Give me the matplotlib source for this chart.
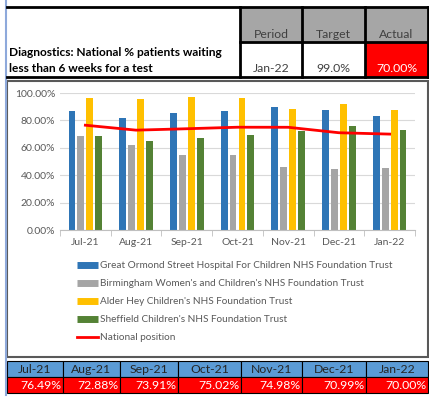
import matplotlib.pyplot as plt
from matplotlib.patches import Rectangle
from matplotlib.lines import Line2D
from matplotlib.ticker import FuncFormatter, FixedLocator

plt.rcParams['font.family'] = ['Lato', 'DejaVu Sans']

## Data
months = ['Jul-21', 'Aug-21', 'Sep-21', 'Oct-21', 'Nov-21', 'Dec-21', 'Jan-22']
trusts = ["Great Ormond Street Hospital For Children NHS Foundation Trust",
          "Birmingham Women's and Children's NHS Foundation Trust",
          "Alder Hey Children's NHS Foundation Trust",
          "Sheffield Children's NHS Foundation Trust"]
gosh = [86.8, 81.9, 85.3, 87.0, 89.7, 87.5, 82.9]
bwc = [68.6, 62.3, 54.7, 55.0, 46.2, 44.5, 45.0]
alder = [96.1, 95.3, 97.3, 96.6, 88.3, 91.9, 87.5]
sheff = [68.6, 64.7, 67.1, 69.0, 72.4, 75.6, 72.9]
national = [76.49, 72.88, 73.91, 75.02, 74.98, 70.99, 70.00]
period, target, actual = 'Jan-22', '99.0%', '70.00%'

colors = ['#2E75B6', '#A5A5A5', '#FFC000', '#548235']
W, H = 429, 408

fig = plt.figure(figsize=(W / 100, H / 100), dpi=100)

#%% background layer in pixel coords
bg = fig.add_axes([0, 0, 1, 1])
bg.set_xlim(0, W)
bg.set_ylim(H, 0)
bg.axis('off')

# left blue edge
bg.plot([6, 6], [0, 395], color='#8EA9DB', lw=1.5)

# top table
grey = '#A6A6A6'
for x0, x1 in [(240, 302), (302, 365), (365, 428)]:
    bg.add_patch(Rectangle((x0, 7), x1 - x0, 35, facecolor=grey, edgecolor='none'))
bg.add_patch(Rectangle((365, 42), 63, 35, facecolor='#FF0000', edgecolor='none'))
bg.plot([7, 428], [7, 7], color='black', lw=2)
bg.plot([7, 428], [77, 77], color='black', lw=2)
bg.plot([240, 428], [42, 42], color='black', lw=2)
for x in [240, 302, 365, 428]:
    bg.plot([x, x], [7, 77], color='black', lw=2)
bg.text(9, 52, 'Diagnostics: National % patients waiting', fontsize=8.6, fontweight='bold', va='center')
bg.text(9, 69, 'less than 6 weeks for a test', fontsize=8.6, fontweight='bold', va='center')
for xc, s in [(271, 'Period'), (333.5, 'Target'), (396.5, 'Actual')]:
    bg.text(xc, 34, s, fontsize=8.8, color='#404040', ha='center', va='center')
bg.text(271, 69, period, fontsize=8.8, color='#404040', ha='center', va='center')
bg.text(333.5, 69, target, fontsize=8.8, color='#404040', ha='center', va='center')
bg.text(396.5, 69, actual, fontsize=8.8, color='white', ha='center', va='center')

# chart box
bg.add_patch(Rectangle((7, 81), 421, 276, facecolor='none', edgecolor='#595959', lw=1.5))

# bottom table
edges = [7, 63, 120, 178, 241, 302, 366, 428]
for i, m in enumerate(months):
    x0, x1 = edges[i], edges[i + 1]
    bg.add_patch(Rectangle((x0, 361), x1 - x0, 16, facecolor='#5B9BD5', edgecolor='black', lw=0.8))
    bg.add_patch(Rectangle((x0, 377), x1 - x0, 16, facecolor='#FF0000', edgecolor='black', lw=0.8))
    bg.text((x0 + x1) / 2, 369.5, m, fontsize=8.8, color='#262626', ha='center', va='center')
    bg.text(x1 - 2, 385.5, '{:.2f}%'.format(national[i]), fontsize=8.8, color='white', ha='right', va='center')

#%% chart
ax = fig.add_axes([60 / W, 1 - 230 / H, 355 / W, 137 / H])
x = list(range(len(months)))
bw = 0.135
pitch = 0.176
for k, (vals, c) in enumerate(zip([gosh, bwc, alder, sheff], colors)):
    off = (k - 1.5) * pitch
    ax.bar([i + off for i in x], vals, width=bw, color=c, zorder=2)
ax.plot(x, national, color='#FF0000', lw=2, zorder=3)

ax.set_xlim(-0.5, 6.5)
ax.set_ylim(0, 100)
ax.yaxis.set_major_locator(FixedLocator([0, 20, 40, 60, 80, 100]))
ax.yaxis.set_major_formatter(FuncFormatter(lambda v, p: '{:.2f}%'.format(v)))
ax.grid(axis='y', color='#D9D9D9', lw=0.8, zorder=0)
ax.set_xticks(x)
ax.set_xticklabels(months)
ax.set_xticks([i - 0.5 for i in range(8)], minor=True)
ax.tick_params(axis='x', which='major', length=0, labelsize=7.5, labelcolor='#595959', pad=6)
ax.tick_params(axis='x', which='minor', length=4, color='#BFBFBF')
ax.tick_params(axis='y', length=0, labelsize=7.5, labelcolor='#595959')
for s in ['top', 'right', 'left']:
    ax.spines[s].set_visible(False)
ax.spines['bottom'].set_color('#BFBFBF')

# legend
handles = [Line2D([], [], color=c, lw=5, solid_capstyle='butt') for c in colors]
handles.append(Line2D([], [], color='#FF0000', lw=2))
leg = fig.legend(handles, trusts + ['National position'], loc='upper left',
                 bbox_to_anchor=(72 / W, 1 - 256 / H), frameon=False, fontsize=7.2,
                 handlelength=2.1, handletextpad=0.25, labelspacing=0.9, borderpad=0)
for t in leg.get_texts():
    t.set_color('#595959')

fig.savefig('out.png', dpi=100)
